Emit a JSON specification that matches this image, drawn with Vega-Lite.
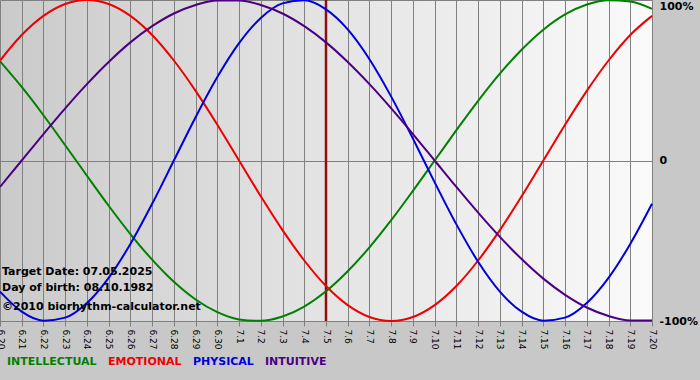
{
  "$schema": "https://vega.github.io/schema/vega-lite/v6.json",
  "width": 652,
  "height": 321,
  "autosize": {"type": "none"},
  "padding": {"left": 0, "top": 0, "right": 48, "bottom": 59},
  "background": "#c8c8c8",
  "config": {
    "view": {
      "stroke": null,
      "fill": {"gradient": "linear", "x1": 0, "y1": 0, "x2": 1, "y2": 0,
        "stops": [{"offset": 0, "color": "#cacaca"}, {"offset": 0.5, "color": "#e4e4e4"}, {"offset": 1, "color": "#fafafa"}]}
    }
  },
  "datasets": {
    "bio": [
      {"day": "6.20", "INTELLECTUAL": 61.8, "EMOTIONAL": 62.3, "PHYSICAL": -81.7, "INTUITIVE": -16.5},
      {"day": "6.21", "INTELLECTUAL": 45.8, "EMOTIONAL": 78.2, "PHYSICAL": -94.2, "INTUITIVE": 0},
      {"day": "6.22", "INTELLECTUAL": 28.2, "EMOTIONAL": 90.1, "PHYSICAL": -99.8, "INTUITIVE": 16.5},
      {"day": "6.23", "INTELLECTUAL": 9.5, "EMOTIONAL": 97.5, "PHYSICAL": -97.9, "INTUITIVE": 32.5},
      {"day": "6.24", "INTELLECTUAL": -9.5, "EMOTIONAL": 100, "PHYSICAL": -88.8, "INTUITIVE": 47.6},
      {"day": "6.25", "INTELLECTUAL": -28.2, "EMOTIONAL": 97.5, "PHYSICAL": -73.1, "INTUITIVE": 61.4},
      {"day": "6.26", "INTELLECTUAL": -45.8, "EMOTIONAL": 90.1, "PHYSICAL": -52.0, "INTUITIVE": 73.6},
      {"day": "6.27", "INTELLECTUAL": -61.8, "EMOTIONAL": 78.2, "PHYSICAL": -27.0, "INTUITIVE": 83.7},
      {"day": "6.28", "INTELLECTUAL": -75.6, "EMOTIONAL": 62.3, "PHYSICAL": 0, "INTUITIVE": 91.6},
      {"day": "6.29", "INTELLECTUAL": -86.6, "EMOTIONAL": 43.4, "PHYSICAL": 27.0, "INTUITIVE": 96.9},
      {"day": "6.30", "INTELLECTUAL": -94.5, "EMOTIONAL": 22.3, "PHYSICAL": 52.0, "INTUITIVE": 99.7},
      {"day": "7.1", "INTELLECTUAL": -99.0, "EMOTIONAL": 0, "PHYSICAL": 73.1, "INTUITIVE": 99.7},
      {"day": "7.2", "INTELLECTUAL": -99.9, "EMOTIONAL": -22.3, "PHYSICAL": 88.8, "INTUITIVE": 96.9},
      {"day": "7.3", "INTELLECTUAL": -97.2, "EMOTIONAL": -43.4, "PHYSICAL": 97.9, "INTUITIVE": 91.6},
      {"day": "7.4", "INTELLECTUAL": -91.0, "EMOTIONAL": -62.3, "PHYSICAL": 99.8, "INTUITIVE": 83.7},
      {"day": "7.5", "INTELLECTUAL": -81.5, "EMOTIONAL": -78.2, "PHYSICAL": 94.2, "INTUITIVE": 73.6},
      {"day": "7.6", "INTELLECTUAL": -69.0, "EMOTIONAL": -90.1, "PHYSICAL": 81.7, "INTUITIVE": 61.4},
      {"day": "7.7", "INTELLECTUAL": -54.1, "EMOTIONAL": -97.5, "PHYSICAL": 63.1, "INTUITIVE": 47.6},
      {"day": "7.8", "INTELLECTUAL": -37.2, "EMOTIONAL": -100, "PHYSICAL": 39.8, "INTUITIVE": 32.5},
      {"day": "7.9", "INTELLECTUAL": -18.9, "EMOTIONAL": -97.5, "PHYSICAL": 13.6, "INTUITIVE": 16.5},
      {"day": "7.10", "INTELLECTUAL": 0, "EMOTIONAL": -90.1, "PHYSICAL": -13.6, "INTUITIVE": 0},
      {"day": "7.11", "INTELLECTUAL": 18.9, "EMOTIONAL": -78.2, "PHYSICAL": -39.8, "INTUITIVE": -16.5},
      {"day": "7.12", "INTELLECTUAL": 37.2, "EMOTIONAL": -62.3, "PHYSICAL": -63.1, "INTUITIVE": -32.5},
      {"day": "7.13", "INTELLECTUAL": 54.1, "EMOTIONAL": -43.4, "PHYSICAL": -81.7, "INTUITIVE": -47.6},
      {"day": "7.14", "INTELLECTUAL": 69.0, "EMOTIONAL": -22.3, "PHYSICAL": -94.2, "INTUITIVE": -61.4},
      {"day": "7.15", "INTELLECTUAL": 81.5, "EMOTIONAL": 0, "PHYSICAL": -99.8, "INTUITIVE": -73.6},
      {"day": "7.16", "INTELLECTUAL": 91.0, "EMOTIONAL": 22.3, "PHYSICAL": -97.9, "INTUITIVE": -83.7},
      {"day": "7.17", "INTELLECTUAL": 97.2, "EMOTIONAL": 43.4, "PHYSICAL": -88.8, "INTUITIVE": -91.6},
      {"day": "7.18", "INTELLECTUAL": 99.9, "EMOTIONAL": 62.3, "PHYSICAL": -73.1, "INTUITIVE": -96.9},
      {"day": "7.19", "INTELLECTUAL": 99.0, "EMOTIONAL": 78.2, "PHYSICAL": -52.0, "INTUITIVE": -99.7},
      {"day": "7.20", "INTELLECTUAL": 94.5, "EMOTIONAL": 90.1, "PHYSICAL": -27.0, "INTUITIVE": -99.7}
    ],
    "cursor": [{"day": "7.5"}],
    "notes": [
      {"day": "6.20", "v": -69.2, "label": "Target Date: 07.05.2025"},
      {"day": "6.20", "v": -79.2, "label": "Day of birth: 08.10.1982"},
      {"day": "6.20", "v": -91.0, "label": "©2010 biorhythm-calculator.net"}
    ]
  },
  "layer": [
    {
      "data": {"name": "cursor"},
      "mark": {"type": "rule", "color": "#8a1010", "strokeWidth": 2.5},
      "encoding": {
        "x": {"field": "day", "type": "ordinal"}
      }
    },
    {
      "data": {"name": "bio"},
      "transform": [{"fold": ["INTELLECTUAL", "EMOTIONAL", "PHYSICAL", "INTUITIVE"], "as": ["series", "value"]}],
      "mark": {"type": "line", "strokeWidth": 2, "interpolate": "monotone"},
      "encoding": {
        "x": {
          "field": "day", "type": "ordinal", "sort": null,
          "scale": {"type": "point", "padding": 0,
            "domain": ["6.20","6.21","6.22","6.23","6.24","6.25","6.26","6.27","6.28","6.29","6.30","7.1","7.2","7.3","7.4","7.5","7.6","7.7","7.8","7.9","7.10","7.11","7.12","7.13","7.14","7.15","7.16","7.17","7.18","7.19","7.20"]},
          "axis": {
            "title": null, "grid": true, "gridColor": "#808080", "gridWidth": 1,
            "labelAngle": 90, "labelAlign": "left", "labelBaseline": "middle",
            "labelFont": "DejaVu Sans", "labelFontSize": 9, "labelColor": "#000000",
            "labelPadding": 3, "tickSize": 5, "tickColor": "#808080",
            "domainColor": "#808080", "labelFlush": false, "labelOverlap": false, "labelBound": false
          }
        },
        "y": {
          "field": "value", "type": "quantitative",
          "scale": {"domain": [-100, 100], "nice": false, "zero": false},
          "axis": {
            "title": null, "orient": "right", "values": [-100, 0, 100],
            "labelExpr": "datum.value == 0 ? '0' : datum.value + '%'",
            "grid": true, "gridColor": "#808080", "tickSize": 0, "labelPadding": 7,
            "labelFont": "DejaVu Sans", "labelFontSize": 11, "labelFontWeight": "bold", "labelColor": "#000000",
            "labelBaseline": {"condition": {"test": "datum.value == 100", "value": "top"}, "value": "middle"},
            "domainColor": "#808080", "labelFlush": false
          }
        },
        "color": {
          "field": "series", "type": "nominal",
          "scale": {"domain": ["INTELLECTUAL", "EMOTIONAL", "PHYSICAL", "INTUITIVE"], "range": ["#008000", "#ee0000", "#0000dd", "#4b0082"]},
          "legend": {
            "orient": "none", "legendX": -4, "legendY": 356, "direction": "horizontal", "title": null,
            "labelFont": "DejaVu Sans", "labelFontSize": 11, "labelFontWeight": "bold",
            "symbolSize": 0, "symbolOpacity": 0, "symbolStrokeWidth": 0, "labelOffset": 0,
            "columnPadding": 0, "padding": 0,
            "encode": {"labels": {"update": {"fill": {"scale": "color", "field": "value"}}}}
          }
        }
      }
    },
    {
      "data": {"name": "notes"},
      "mark": {"type": "text", "align": "left", "baseline": "middle", "dx": 2, "font": "DejaVu Sans", "fontSize": 11, "fontWeight": "bold", "color": "#000000"},
      "encoding": {
        "x": {"field": "day", "type": "ordinal"},
        "y": {"field": "v", "type": "quantitative"},
        "text": {"field": "label"}
      }
    }
  ]
}
